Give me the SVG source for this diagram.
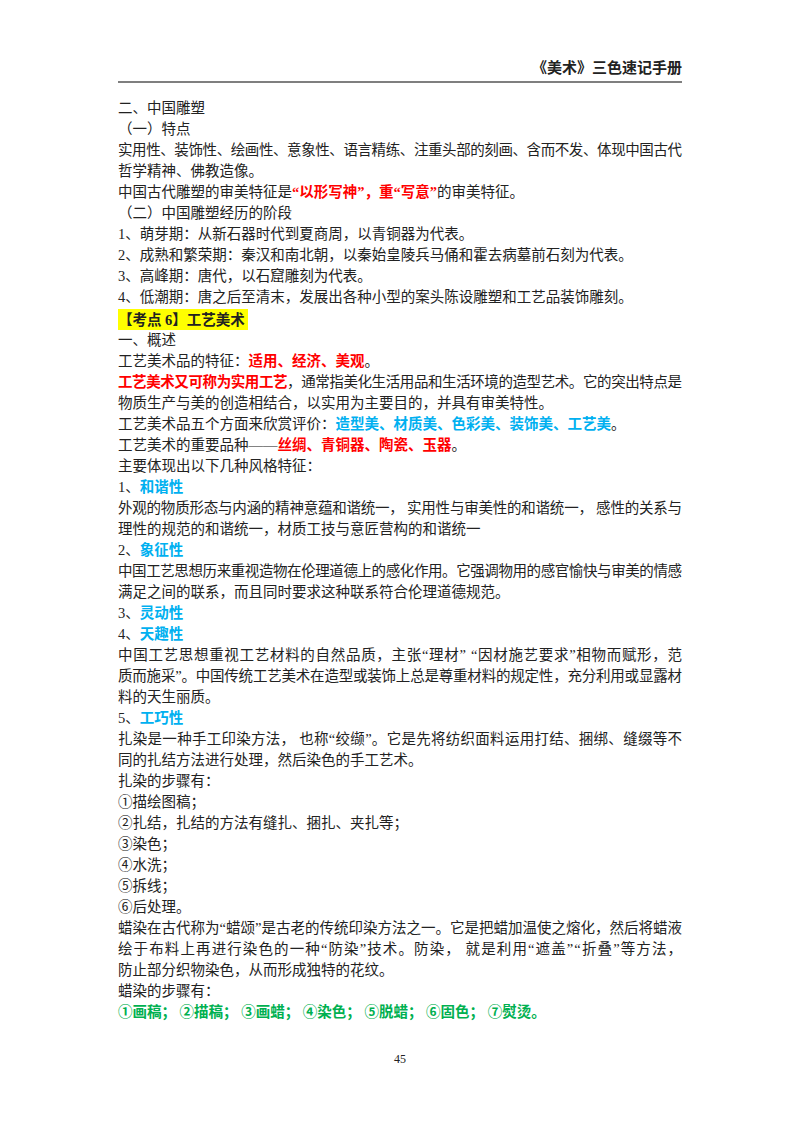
<svg xmlns="http://www.w3.org/2000/svg" width="800" height="1132" viewBox="0 0 800 1132">
<style>
text{font-family:"Liberation Serif","Noto Sans CJK SC",serif;font-size:14.5px;fill:#222}
.b{font-weight:bold}
.r{fill:#ff0000;font-weight:bold}
.c{fill:#00b0f0;font-weight:bold}
.g{fill:#00b050;font-weight:bold}
</style>
<rect width="800" height="1132" fill="#fff"/>
<g id="header">
<text x="682" y="73" text-anchor="end" class="b" style="font-size:15px">《美术》三色速记手册</text>
<line x1="118" y1="82" x2="682" y2="82" stroke="#555" stroke-width="1.5"/>
</g>
<rect x="118" y="309" width="130" height="21" fill="#ffff00"/>
<g id="body">
<text x="118" y="113">二、中国雕塑</text>
<text x="118" y="134">（一）特点</text>
<text x="118" y="155" textLength="564" lengthAdjust="spacing">实用性、装饰性、绘画性、意象性、语言精练、注重头部的刻画、含而不发、体现中国古代</text>
<text x="118" y="176">哲学精神、佛教造像。</text>
<text x="118" y="197">中国古代雕塑的审美特征是<tspan class="r">“以形写神”，重“写意”</tspan>的审美特征。</text>
<text x="118" y="218">（二）中国雕塑经历的阶段</text>
<text x="118" y="239">1、萌芽期：从新石器时代到夏商周，以青铜器为代表。</text>
<text x="118" y="260">2、成熟和繁荣期：秦汉和南北朝，以秦始皇陵兵马俑和霍去病墓前石刻为代表。</text>
<text x="118" y="281">3、高峰期：唐代，以石窟雕刻为代表。</text>
<text x="118" y="302">4、低潮期：唐之后至清末，发展出各种小型的案头陈设雕塑和工艺品装饰雕刻。</text>
<text x="118" y="325" class="b">【考点 6】工艺美术</text>
<text x="118" y="345">一、概述</text>
<text x="118" y="366">工艺美术品的特征：<tspan class="r">适用、经济、美观</tspan>。</text>
<text x="118" y="387" textLength="564" lengthAdjust="spacing"><tspan class="r">工艺美术又可称为实用工艺</tspan>，通常指美化生活用品和生活环境的造型艺术。它的突出特点是</text>
<text x="118" y="408">物质生产与美的创造相结合，以实用为主要目的，并具有审美特性。</text>
<text x="118" y="429">工艺美术品五个方面来欣赏评价：<tspan class="c">造型美、材质美、色彩美、装饰美、工艺美</tspan>。</text>
<text x="118" y="450">工艺美术的重要品种——<tspan class="r">丝绸、青铜器、陶瓷、玉器</tspan>。</text>
<text x="118" y="471">主要体现出以下几种风格特征：</text>
<text x="118" y="492">1、<tspan class="c">和谐性</tspan></text>
<text x="118" y="513" textLength="564" lengthAdjust="spacing">外观的物质形态与内涵的精神意蕴和谐统一， 实用性与审美性的和谐统一， 感性的关系与</text>
<text x="118" y="534">理性的规范的和谐统一，材质工技与意匠营构的和谐统一</text>
<text x="118" y="555">2、<tspan class="c">象征性</tspan></text>
<text x="118" y="576" textLength="564" lengthAdjust="spacing">中国工艺思想历来重视造物在伦理道德上的感化作用。它强调物用的感官愉快与审美的情感</text>
<text x="118" y="597">满足之间的联系，而且同时要求这种联系符合伦理道德规范。</text>
<text x="118" y="618">3、<tspan class="c">灵动性</tspan></text>
<text x="118" y="639">4、<tspan class="c">天趣性</tspan></text>
<text x="118" y="660" textLength="564" lengthAdjust="spacing">中国工艺思想重视工艺材料的自然品质，主张“理材” “因材施艺要求”相物而赋形，范</text>
<text x="118" y="681" textLength="564" lengthAdjust="spacing">质而施采”。中国传统工艺美术在造型或装饰上总是尊重材料的规定性，充分利用或显露材</text>
<text x="118" y="702">料的天生丽质。</text>
<text x="118" y="723">5、<tspan class="c">工巧性</tspan></text>
<text x="118" y="744" textLength="564" lengthAdjust="spacing">扎染是一种手工印染方法， 也称“绞缬”。它是先将纺织面料运用打结、捆绑、缝缀等不</text>
<text x="118" y="765">同的扎结方法进行处理，然后染色的手工艺术。</text>
<text x="118" y="786">扎染的步骤有：</text>
<text x="118" y="807">①描绘图稿；</text>
<text x="118" y="828">②扎结，扎结的方法有缝扎、捆扎、夹扎等；</text>
<text x="118" y="849">③染色；</text>
<text x="118" y="870">④水洗；</text>
<text x="118" y="891">⑤拆线；</text>
<text x="118" y="912">⑥后处理。</text>
<text x="118" y="933" textLength="564" lengthAdjust="spacing">蜡染在古代称为“蜡颂”是古老的传统印染方法之一。它是把蜡加温使之熔化，然后将蜡液</text>
<text x="118" y="954" textLength="564" lengthAdjust="spacing">绘于布料上再进行染色的一种“防染”技术。防染， 就是利用“遮盖”“折叠”等方法，</text>
<text x="118" y="975">防止部分织物染色，从而形成独特的花纹。</text>
<text x="118" y="996">蜡染的步骤有：</text>
<text x="118" y="1017" class="g">①画稿； ②描稿； ③画蜡； ④染色； ⑤脱蜡； ⑥固色； ⑦熨烫。</text>
</g>
<text x="400" y="1063" text-anchor="middle" style="font-size:12px">45</text>
</svg>
